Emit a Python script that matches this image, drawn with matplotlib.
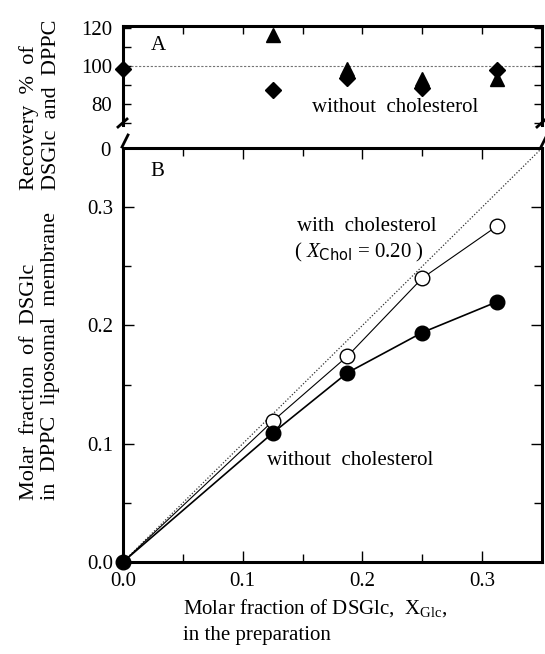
import matplotlib
matplotlib.use("Agg")
import matplotlib.pyplot as plt
from matplotlib.ticker import MultipleLocator

plt.rcParams['font.family'] = ['Liberation Serif', 'DejaVu Serif']
plt.rcParams['mathtext.fontset'] = 'custom'
plt.rcParams['mathtext.rm'] = 'Liberation Serif'
plt.rcParams['mathtext.it'] = 'Liberation Serif:italic'
plt.rcParams['mathtext.sf'] = 'DejaVu Sans'

# ---- data ----
# A: recovery (%) of DSGlc / DPPC, without cholesterol
x_rec_d = [0.0, 0.125, 0.1875, 0.25, 0.3125]
rec_d = [98.3, 87.3, 93.5, 88.5, 98.0]
x_rec_t = [0.125, 0.1875, 0.25, 0.3125]
rec_t = [116.2, 98.5, 93.0, 93.4]

# B: molar fraction of DSGlc in the membrane vs. in the preparation
x_prep = [0.0, 0.125, 0.1875, 0.25, 0.3125]
y_nochol = [0.0, 0.109, 0.160, 0.194, 0.220]
y_chol = [0.0, 0.119, 0.174, 0.240, 0.284]

W, H = 545, 654
fig = plt.figure(figsize=(W / 100, H / 100), dpi=100)


def box(l, t, r, b):
    return [l / W, 1 - b / H, (r - l) / W, (b - t) / H]


axA = fig.add_axes(box(123, 26, 542, 125))
axB = fig.add_axes(box(123, 148, 542, 562))

FS = 15
lw_sp = 2.2

# ---- panel A ----
axA.axhline(100, color="0.45", lw=0.8, ls=(0, (2, 1.5)), zorder=1)
axA.plot(x_rec_d, rec_d, "kD", ms=8.5, clip_on=False, zorder=3)
axA.plot(x_rec_t, rec_t, "k^", ms=10, clip_on=False, zorder=3)
axA.set_xlim(0, 0.35)
axA.set_ylim(69, 121)
axA.set_yticks([80, 100, 120])
axA.yaxis.set_minor_locator(MultipleLocator(10))
axA.xaxis.set_major_locator(MultipleLocator(0.1))
axA.xaxis.set_minor_locator(MultipleLocator(0.05))
axA.spines["bottom"].set_visible(False)
for s in ["left", "right", "top"]:
    axA.spines[s].set_linewidth(lw_sp)
axA.tick_params(axis="x", which="both", bottom=False, labelbottom=False,
                top=True, direction="in", length=6, width=1)
axA.tick_params(axis="y", which="both", left=True, right=True, direction="in",
                length=6, width=1, labelsize=FS, pad=8)
axA.text(0.023, 111, "A", fontsize=FS, va="center", ha="left")
axA.text(0.158, 78.4, "without  cholesterol", fontsize=FS, va="center", ha="left")

# ---- panel B ----
axB.plot([0, 0.35], [0, 0.35], color="0.2", lw=0.9, ls=(0, (1, 1.5)), zorder=1)
axB.plot(x_prep, y_chol, "-", color="k", lw=0.8, zorder=2)
axB.plot(x_prep[1:], y_chol[1:], "o", mfc="white", mec="k", mew=1.0, ms=10.5, zorder=3)
axB.plot(x_prep, y_nochol, "-o", color="k", lw=1.2, ms=10.5, zorder=4, clip_on=False)
axB.set_xlim(0, 0.35)
axB.set_ylim(0, 0.35)
axB.xaxis.set_major_locator(MultipleLocator(0.1))
axB.xaxis.set_minor_locator(MultipleLocator(0.05))
axB.yaxis.set_major_locator(MultipleLocator(0.1))
axB.yaxis.set_minor_locator(MultipleLocator(0.05))
axB.xaxis.set_major_formatter(plt.FormatStrFormatter("%.1f"))
axB.yaxis.set_major_formatter(plt.FormatStrFormatter("%.1f"))
for s in axB.spines.values():
    s.set_linewidth(lw_sp)
axB.tick_params(which="both", direction="in", top=True, right=True, width=1, labelsize=FS, pad=7)
axB.tick_params(which="major", length=8)
axB.tick_params(which="minor", length=6)
axB.text(0.023, 0.33, "B", fontsize=FS, va="center", ha="left")
axB.text(0.145, 0.284, "with  cholesterol", fontsize=FS, va="center", ha="left")
axB.text(0.143, 0.262, r"( $X_{\mathsf{Chol}}$ = 0.20 )", fontsize=FS, va="center", ha="left")
axB.text(0.12, 0.086, "without  cholesterol", fontsize=FS, va="center", ha="left")

# broken-axis marks and the "0" of the recovery scale
for xb in (123, 542):
    fig.add_artist(plt.Line2D([(xb - 5) / W, (xb + 4) / W], [1 - 127 / H, 1 - 119 / H],
                              color="k", lw=2))
    fig.add_artist(plt.Line2D([(xb - 1) / W, (xb + 5) / W], [1 - 147 / H, 1 - 135 / H],
                              color="k", lw=2))
fig.text(111 / W, 1 - 151 / H, "0", fontsize=FS, ha="right", va="center")

# axis labels
fig.text(40 / W, 1 - 190 / H, "Recovery  %  of\nDSGlc  and  DPPC", rotation=90,
         fontsize=16, ha="center", va="bottom", multialignment="left", linespacing=1.2)
fig.text(40 / W, 1 - 500 / H, "Molar  fraction  of  DSGlc\nin  DPPC  liposomal  membrane", rotation=90,
         fontsize=16, ha="center", va="bottom", multialignment="left", linespacing=1.2)
fig.text(183 / W, 1 - 621 / H, "Molar fraction of DSGlc,  $\\mathrm{X}_{\\mathrm{Glc}}$,\nin the preparation",
         fontsize=FS, ha="left", va="center", multialignment="left", linespacing=1.45)

fig.savefig("out.png", dpi=100)
